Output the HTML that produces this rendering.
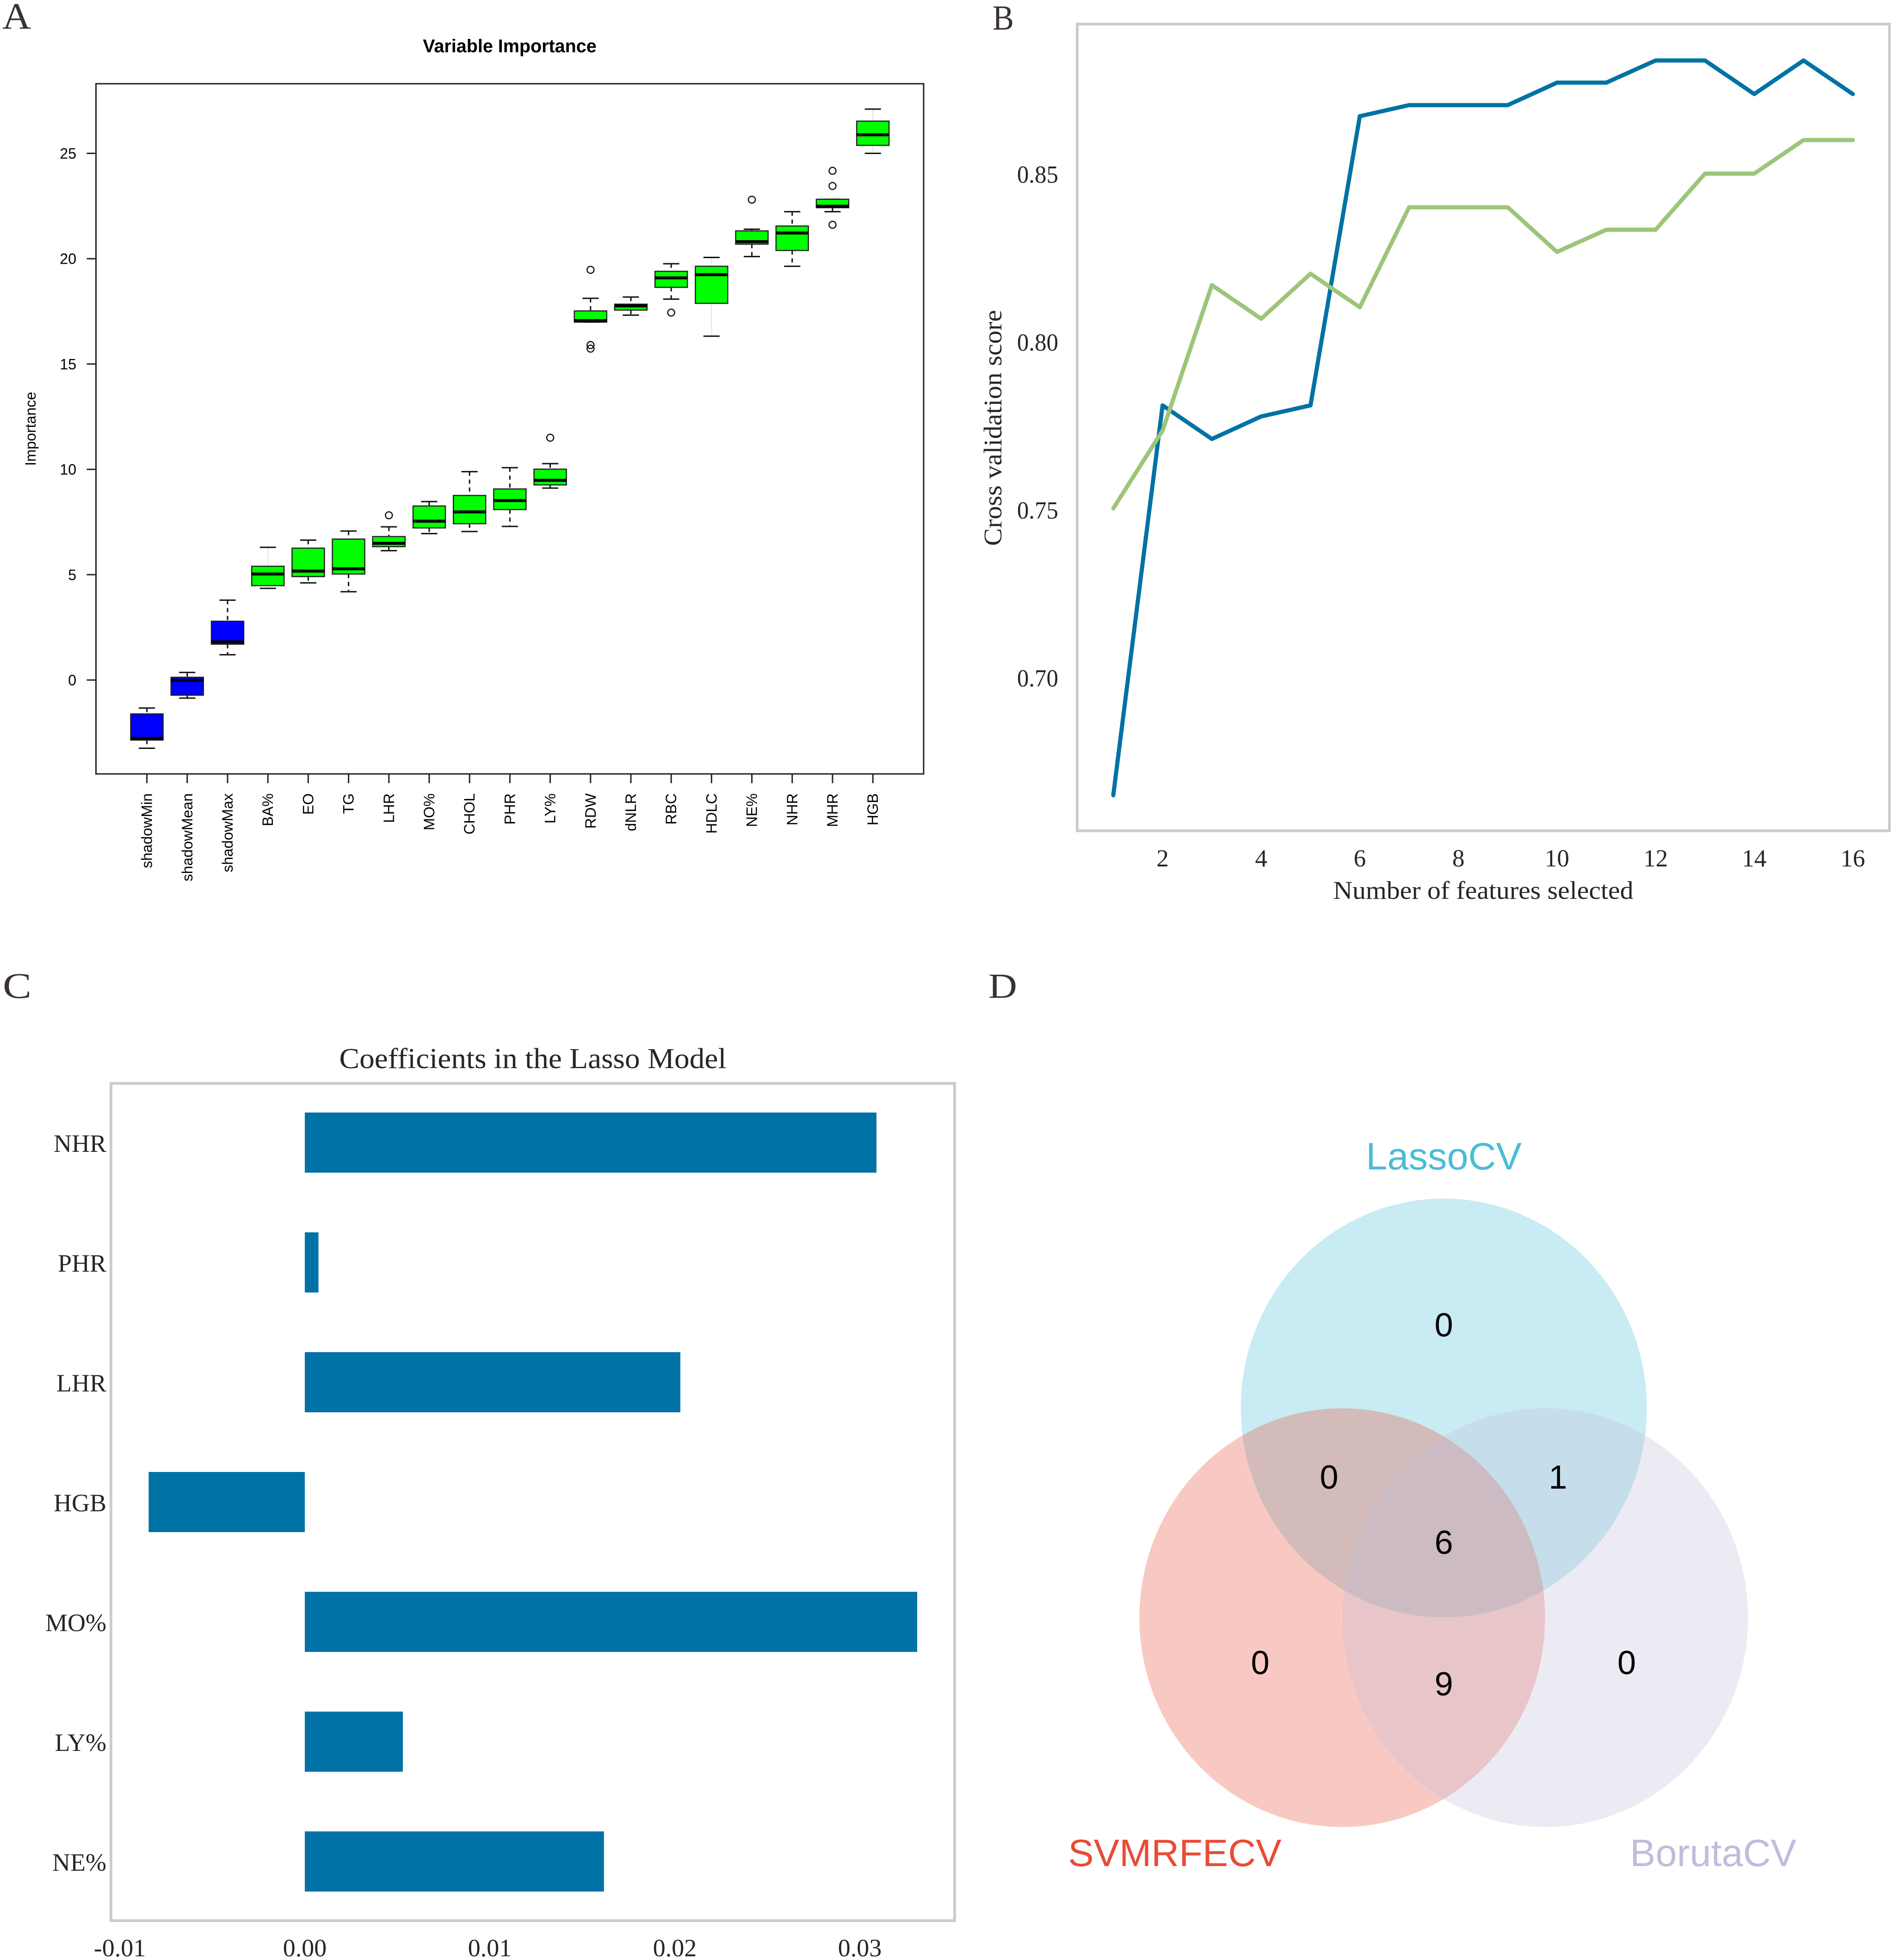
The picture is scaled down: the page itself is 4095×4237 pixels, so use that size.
<!DOCTYPE html>
<html lang="en">
<head>
<meta charset="utf-8">
<title>Feature selection figure</title>
<style>
html,body{margin:0;padding:0;background:#fff;}
svg{display:block;}
.sans{font-family:"Liberation Sans",Arial,sans-serif;}
.serif{font-family:"Liberation Serif","Times New Roman",serif;}
</style>
</head>
<body>
<svg id="fig" xmlns="http://www.w3.org/2000/svg" width="4095" height="4237" viewBox="0 0 4095 4237">
  <rect x="0" y="0" width="4095" height="4237" fill="#ffffff"/>

  <text class="serif" x="5" y="62" font-size="80" fill="#3a3230" textLength="62" lengthAdjust="spacingAndGlyphs">A</text>
  <text class="serif" x="2146" y="64" font-size="76" fill="#3a3230" textLength="46" lengthAdjust="spacingAndGlyphs">B</text>
  <text class="serif" x="6" y="2157" font-size="78" fill="#3a3230" textLength="62" lengthAdjust="spacingAndGlyphs">C</text>
  <text class="serif" x="2137" y="2157" font-size="76" fill="#3a3230" textLength="62" lengthAdjust="spacingAndGlyphs">D</text>

  <g id="panelA">
    <text class="sans" x="1102" y="113" font-size="39.5" font-weight="bold" text-anchor="middle" fill="#000">Variable Importance</text>
    <text class="sans" transform="translate(77 927) rotate(-90)" font-size="32" text-anchor="middle" fill="#000">Importance</text>
    <rect x="207.5" y="181" width="1789.5" height="1492" fill="none" stroke="#222" stroke-width="3"/>
  </g>

  <g id="panelB">
    <rect x="2329" y="52" width="1756" height="1744" fill="none" stroke="#cccccc" stroke-width="6"/>
    <text class="serif" x="3207" y="1943" font-size="55" text-anchor="middle" fill="#262626" textLength="649" lengthAdjust="spacingAndGlyphs">Number of features selected</text>
    <text class="serif" transform="translate(2165 925) rotate(-90)" font-size="55" text-anchor="middle" fill="#262626" textLength="510" lengthAdjust="spacingAndGlyphs">Cross validation score</text>
  </g>

  <g id="panelC">
    <text class="serif" x="1152" y="2309" font-size="62" text-anchor="middle" fill="#262626" textLength="837" lengthAdjust="spacingAndGlyphs">Coefficients in the Lasso Model</text>
    <rect x="240" y="2342" width="1824" height="1810" fill="none" stroke="#cccccc" stroke-width="6"/>
  </g>

  <g id="panelD">
    <ellipse cx="3121.6" cy="3043.6" rx="439" ry="452.6" fill="#4bbcd6" fill-opacity="0.3"/>
    <ellipse cx="2902" cy="3497" rx="438.5" ry="452.6" fill="#e94b35" fill-opacity="0.3"/>
    <ellipse cx="3341" cy="3497" rx="438.5" ry="452.6" fill="#c0bcdc" fill-opacity="0.3"/>
    <text class="sans" x="3121.6" y="2528" font-size="83" text-anchor="middle" fill="#4bbcd6">LassoCV</text>
    <text class="sans" x="2540" y="4034" font-size="83" text-anchor="middle" fill="#e94b35">SVMRFECV</text>
    <text class="sans" x="3704" y="4034" font-size="83" text-anchor="middle" fill="#c0bcdc">BorutaCV</text>
    <g class="sans" font-size="72" text-anchor="middle" fill="#000">
      <text x="3121.6" y="2889">0</text>
      <text x="2873.5" y="3218">0</text>
      <text x="3368.4" y="3218">1</text>
      <text x="3121.6" y="3359">6</text>
      <text x="2724.7" y="3619">0</text>
      <text x="3121.6" y="3665">9</text>
      <text x="3517" y="3619">0</text>
    </g>
  </g>
</svg>

<script>
// ---- Panel A data ----
const boxNames = ["shadowMin","shadowMean","shadowMax","BA%","EO","TG","LHR","MO%","CHOL","PHR","LY%","RDW","dNLR","RBC","HDLC","NE%","NHR","MHR","HGB"];
const boxLow = [-3.24,-0.86,1.2,4.35,4.61,4.19,6.14,6.95,7.05,7.29,9.11,16.99,17.32,18.08,16.32,20.1,19.64,22.23,25.0];
const boxQ1 = [-2.85,-0.72,1.7,4.48,4.91,5.03,6.33,7.22,7.42,8.09,9.26,16.99,17.56,18.64,17.88,20.69,20.39,22.42,25.38];
const boxMedian = [-2.77,-0.01,1.81,5.03,5.17,5.28,6.49,7.54,7.98,8.52,9.48,17.06,17.76,19.09,19.24,20.81,21.22,22.49,25.88];
const boxQ3 = [-1.61,0.13,2.79,5.4,6.26,6.69,6.81,8.26,8.76,9.07,10.01,17.52,17.84,19.4,19.64,21.32,21.55,22.82,26.53];
const boxHigh = [-1.33,0.36,3.79,6.3,6.64,7.07,7.27,8.47,9.89,10.08,10.27,18.12,18.18,19.76,20.06,21.4,22.23,22.82,27.1];
const boxOutliers = [[],[],[],[],[],[],[7.82],[],[],[],[11.5],[19.47,15.9,15.73],[],[17.44],[],[22.8],[],[24.17,23.45,21.61],[]];
const shadowCount = 3;
const faintWhiskers = ["BA%","HDLC","HGB"];
const boxYTicks = [0,5,10,15,20,25];

// ---- Panel B data ----
const featureCounts = [1,2,3,4,5,6,7,8,9,10,11,12,13,14,15,16];
const blueScores = [0.6654,0.7815,0.7715,0.7782,0.7815,0.8676,0.8709,0.8709,0.8709,0.8776,0.8776,0.8842,0.8842,0.8742,0.8842,0.8742];
const greenScores = [0.7508,0.774,0.8173,0.8073,0.8207,0.8107,0.8405,0.8405,0.8405,0.8272,0.8338,0.8338,0.8505,0.8505,0.8605,0.8605];
const lineXTicks = [2,4,6,8,10,12,14,16];
const lineYTicks = ["0.70","0.75","0.80","0.85"];

// ---- Panel C data ----
const coefNames = ["NHR","PHR","LHR","HGB","MO%","LY%","NE%"];
const coefValues = [0.0309,0.00074,0.0203,-0.00844,0.0331,0.0053,0.01617];
const coefXTicks = ["-0.01","0.00","0.01","0.02","0.03"];

// ---- Axis functions ----
const xA = i => 317.6 + i * 87.2;
const yA = v => 1470 - v * 45.54;
const xB = n => 2407 + (n - 1) * 106.6;
const yB = v => 379 + (0.85 - v) * 7260;
const xC = v => 659 + v * 40000;
const yC = i => 2470 + i * 259;

const NS = 'http://www.w3.org/2000/svg';
function mk(tag, attrs, parent, txt) {
  const el = document.createElementNS(NS, tag);
  for (const k in attrs) el.setAttribute(k, attrs[k]);
  if (txt !== undefined) el.textContent = txt;
  parent.appendChild(el);
  return el;
}
const gA = document.getElementById('panelA');
const gB = document.getElementById('panelB');
const gC = document.getElementById('panelC');

// Panel A
boxYTicks.forEach(v => {
  const t = mk('line', {x1:187.5, x2:207.5, y1:yA(v), y2:yA(v), stroke:'#222', 'stroke-width':3}, gA);
  
  
  const l = mk('text', {x:165, y:yA(v)+11.5, 'font-size':32, 'text-anchor':'end', fill:'#000', class:'sans'}, gA, String(v));
  
  
});
boxNames.forEach((name, i) => {
  const x = xA(i);
  const faint = faintWhiskers.includes(name);
  const g = mk('g', {}, gA);
  
  
  const tick = mk('line', {x1:x, x2:x, y1:1673, y2:1693, stroke:'#222', 'stroke-width':3}, gA);
  
  
  const lab = mk('text', {transform:'translate(' + (x+11) + ' 1715) rotate(-90)', 'font-size':32, 'text-anchor':'end', fill:'#000', class:'sans'}, gA, name);
  
  
  const wStyle = faint ? {stroke:'#e2e2e2', 'stroke-width':2} : {stroke:'#111', 'stroke-width':3, 'stroke-dasharray':'9 8'};
  const w1 = mk('line', Object.assign({x1:x, x2:x, y1:yA(boxHigh[i]), y2:yA(boxQ3[i])}, wStyle), g);
  
  
  const w2 = mk('line', Object.assign({x1:x, x2:x, y1:yA(boxQ1[i]), y2:yA(boxLow[i])}, wStyle), g);
  
  
  const c1 = mk('line', {x1:x-17.5, x2:x+17.5, y1:yA(boxHigh[i]), y2:yA(boxHigh[i]), stroke:'#111', 'stroke-width':3}, g);
  
  
  const c2 = mk('line', {x1:x-17.5, x2:x+17.5, y1:yA(boxLow[i]), y2:yA(boxLow[i]), stroke:'#111', 'stroke-width':3}, g);
  
  
  const r = mk('rect', {x:x-35, y:yA(boxQ3[i]), width:70, height:yA(boxQ1[i])-yA(boxQ3[i]), fill:i<shadowCount?'#0000ff':'#00ff00', stroke:'#222', 'stroke-width':2.5}, g);
  
  
  const m = mk('line', {x1:x-35, x2:x+35, y1:yA(boxMedian[i]), y2:yA(boxMedian[i]), stroke:'#000', 'stroke-width':6.5}, g);
  
  
  boxOutliers[i].forEach(o => {
    const c = mk('circle', {cx:x, cy:yA(o), r:7.5, fill:'none', stroke:'#111', 'stroke-width':2.5}, g);
    
    
  });
});

// Panel B
lineXTicks.forEach(n => {
  const l = mk('text', {x:xB(n), y:1873, 'font-size':53, 'text-anchor':'middle', fill:'#262626', class:'serif'}, gB, String(n));
  
  
});
lineYTicks.forEach(s => {
  const l = mk('text', {x:2288, y:yB(parseFloat(s))+16, 'font-size':53, 'text-anchor':'end', fill:'#262626', class:'serif', textLength:89, lengthAdjust:'spacingAndGlyphs'}, gB, s);
  
  
});
const ptsOf = arr => arr.map((v, i) => xB(featureCounts[i]) + ',' + yB(v)).join(' ');
const lineBlue = mk('polyline', {points:ptsOf(blueScores), fill:'none', stroke:'#0072a4', 'stroke-width':9, 'stroke-linejoin':'round', 'stroke-linecap':'round'}, gB);


const lineGreen = mk('polyline', {points:ptsOf(greenScores), fill:'none', stroke:'#9dc57a', 'stroke-width':9, 'stroke-linejoin':'round', 'stroke-linecap':'round'}, gB);



// Panel C
coefNames.forEach((name, i) => {
  const v = coefValues[i];
  const b = mk('rect', {x:Math.min(xC(0), xC(v)), y:yC(i)-65, width:Math.abs(xC(v)-xC(0)), height:130, fill:'#0072a5'}, gC);
  
  
  const l = mk('text', {x:230, y:yC(i)+20, 'font-size':54, 'text-anchor':'end', fill:'#262626', class:'serif'}, gC, name);
  
  
});
coefXTicks.forEach(s => {
  const l = mk('text', {x:xC(parseFloat(s)), y:4229, 'font-size':54, 'text-anchor':'middle', fill:'#262626', class:'serif'}, gC, s);
  
  
});
</script>
</body>
</html>
